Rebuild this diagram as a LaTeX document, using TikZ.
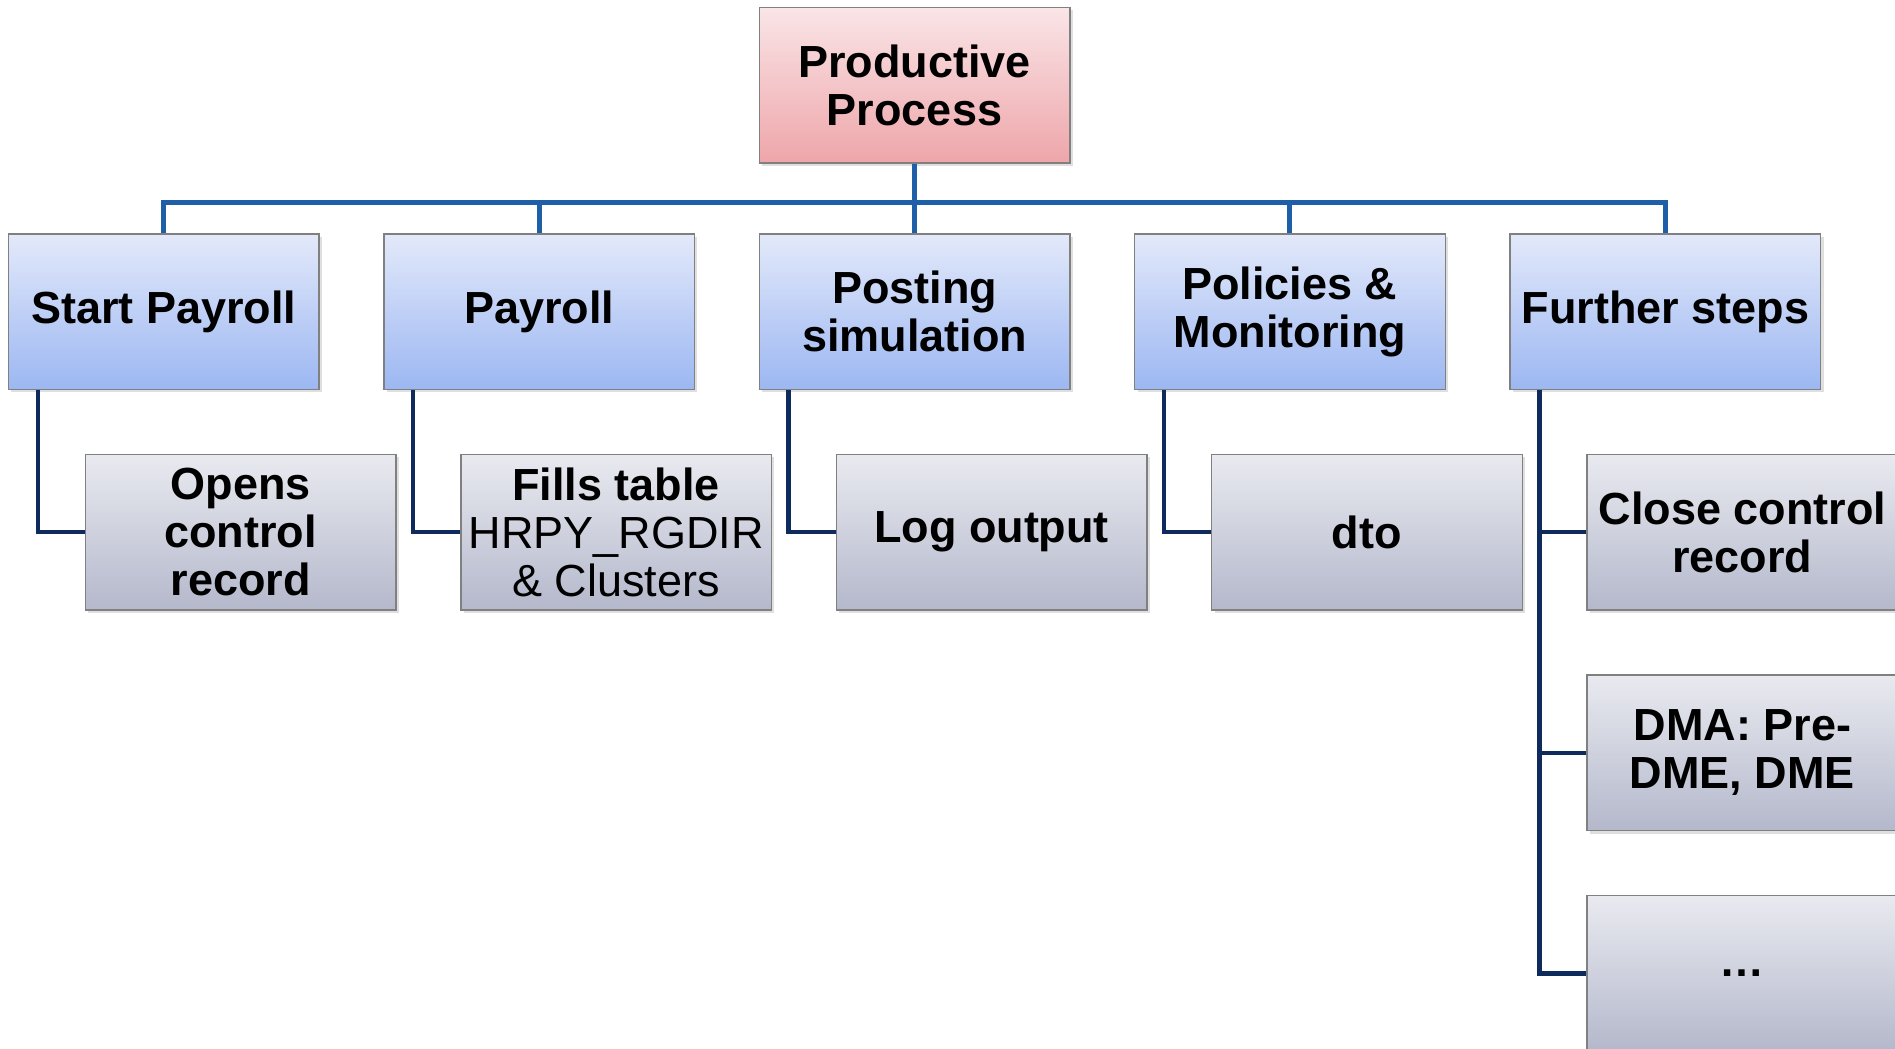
\documentclass[tikz,border=0pt]{standalone}
\usepackage{fontspec}
\setmainfont{Liberation Sans}
\usepackage{tikz}
\usetikzlibrary{positioning,shadows}

\definecolor{pinktop}{HTML}{FAE5E7}
\definecolor{pinkbot}{HTML}{EEA6AA}
\definecolor{bluetop}{HTML}{E3E9FA}
\definecolor{bluebot}{HTML}{9CB7F2}
\definecolor{graytop}{HTML}{E9EAF0}
\definecolor{graybot}{HTML}{B4B8CB}
\definecolor{busblue}{HTML}{1F5FA8}
\definecolor{linknavy}{HTML}{0F2B5E}

\tikzset{
	box/.style={draw=black!50, line width=0.7pt, minimum width=155.3pt, minimum height=77.8pt,
		inner sep=2pt, align=center, font=\fontsize{22.5}{24}\selectfont\bfseries,
		drop shadow={shadow xshift=1.5pt, shadow yshift=-1.5pt, opacity=0.25}},
	topbox/.style={box, top color=pinktop, bottom color=pinkbot},
	lvone/.style={box, top color=bluetop, bottom color=bluebot},
	lvtwo/.style={box, top color=graytop, bottom color=graybot},
	bus/.style={draw=busblue, line width=2.5pt},
	link/.style={draw=linknavy, line width=2.2pt},
}

\begin{document}
\begin{tikzpicture}[x=0.5pt, y=-0.5pt]
	\useasboundingbox (0,0) rectangle (1895,1049);
	
	\node[topbox] (prod) at (914.5,85) {Productive\\Process};
	
	% first level
	\node[lvone, below=34.8pt of prod] (post) {Posting\\simulation};
	\node[lvone, left=31.7pt of post] (pay) {Payroll};
	\node[lvone, left=31.7pt of pay] (start) {Start Payroll};
	\node[lvone, right=31.7pt of post] (pol) {Policies \&\\Monitoring};
	\node[lvone, right=31.7pt of pol] (fur) {Further steps};
	
	% second level
	\node[lvtwo, below=31.8pt of start, xshift=38.5pt] (opens) {Opens\\control\\record};
	\node[lvtwo, below=31.8pt of pay, xshift=38.5pt] (fills) {Fills table\\\mdseries HRPY\_RGDIR\\\mdseries \& Clusters};
	\node[lvtwo, below=31.8pt of post, xshift=38.5pt] (log) {Log output};
	\node[lvtwo, below=31.8pt of pol, xshift=38.5pt] (dto) {dto};
	\node[lvtwo, below=31.8pt of fur, xshift=38.5pt] (close) {Close control\\record};
	\node[lvtwo, below=31.8pt of close] (dma) {DMA: Pre-\\DME, DME};
	\node[lvtwo, below=31.8pt of dma] (more) {…};
	
	\path (prod.south) ++(0,-19.5pt) coordinate (hub);
	\draw[bus] (prod.south) -- (hub);
	\foreach \n in {start,pay,post,pol,fur}
	\draw[bus] (hub) -| (\n.north);
	
	\draw[link] ([xshift=15pt]start.south west) |- (opens.west);
	\draw[link] ([xshift=15pt]pay.south west) |- (fills.west);
	\draw[link] ([xshift=15pt]post.south west) |- (log.west);
	\draw[link] ([xshift=15pt]pol.south west) |- (dto.west);
	\foreach \c in {close,dma,more}
	\draw[link] ([xshift=15pt]fur.south west) |- (\c.west);
\end{tikzpicture}
\end{document}
